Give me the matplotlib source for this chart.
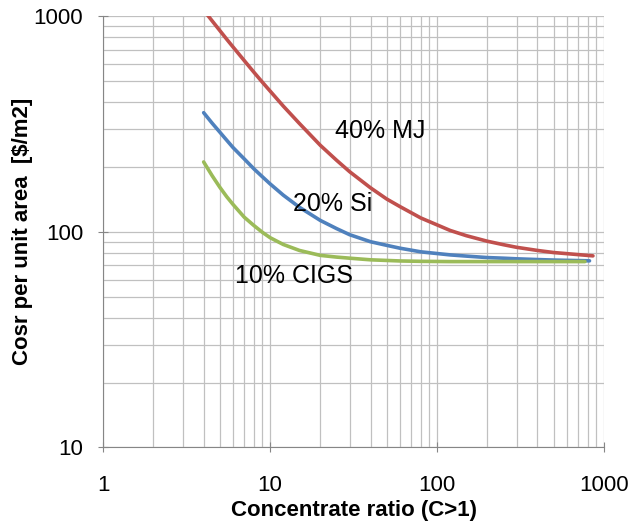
import numpy as np
import matplotlib.pyplot as plt

plt.rcParams["font.family"] = ["Liberation Sans", "DejaVu Sans"]

# concentration ratio (x) and cost per unit area (y)
conc_cigs = [4, 4.5, 5, 5.5, 6, 7, 8, 9, 10, 12, 15, 20, 25, 30, 40, 50, 60, 80,
             120, 200, 300, 500, 770]
cost_cigs = [211, 182, 161, 145.5, 134, 117, 107, 99.5, 94, 87.4, 82, 77.8, 76.4,
             75.5, 74.2, 73.7, 73.3, 73, 72.8, 72.8, 72.8, 72.8, 72.8]

conc_si = [4, 4.5, 5, 5.5, 6, 7, 8, 9, 10, 12, 15, 20, 25, 30, 40, 50, 60, 80,
           120, 150, 200, 250, 300, 400, 500, 820]
cost_si = [357, 319, 290, 266, 246, 218, 196, 180, 167, 148, 130, 113, 103.6, 97,
           90, 86.6, 84, 80.8, 78.2, 77.2, 76, 75.5, 75, 74.4, 74, 73.4]

conc_mj = [4, 4.5, 5, 5.5, 6, 7, 8, 9, 10, 12, 15, 20, 25, 30, 40, 50, 60, 80,
           120, 150, 200, 250, 300, 400, 500, 860]
cost_mj = [1067, 951, 858, 782, 720, 623, 550, 494, 450, 383, 318, 252, 215, 190,
           160, 142, 131, 116, 101.5, 96, 90.5, 87.2, 84.8, 82, 80.2, 77.4]

labels = ["10% CIGS", "20% Si", "40% MJ"]
label_pos = [(6.2, 62.5), (13.8, 135), (24.5, 294)]

fig = plt.figure(figsize=(6.33, 5.24), dpi=100)
ax = fig.add_axes([0.163, 0.146, 0.791, 0.823])

ax.set_xscale("log")
ax.set_yscale("log")
ax.set_xlim(1, 1000)
ax.set_ylim(10, 1000)

ax.grid(True, which="both", color="#c0c0c0", linewidth=0.9)
ax.set_axisbelow(True)

ax.plot(conc_mj, cost_mj, color="#c0504d", linewidth=2.6, solid_capstyle="round")
ax.plot(conc_si, cost_si, color="#4f81bd", linewidth=2.6, solid_capstyle="round")
ax.plot(conc_cigs, cost_cigs, color="#9bbb59", linewidth=2.6, solid_capstyle="round")

for text, (x, y) in zip(labels, label_pos):
    ax.text(x, y, text, fontsize=18, ha="left", va="center")

for side in ["top", "right"]:
    ax.spines[side].set_visible(False)
for side in ["left", "bottom"]:
    ax.spines[side].set_color("#868686")

ax.set_xticks([1, 10, 100, 1000])
ax.set_xticklabels(["1", "10", "100", "1000"])
ax.set_yticks([10, 100, 1000])
ax.set_yticklabels(["10", "100", "1000"])
ax.tick_params(which="major", direction="inout", length=7, color="#868686", labelsize=16)
ax.tick_params(axis="x", which="major", pad=16)
ax.tick_params(axis="y", which="major", pad=11)
ax.tick_params(which="minor", length=0)

ax.set_xlabel("Concentrate ratio (C>1)", fontsize=16, fontweight="bold", labelpad=3)
ax.set_ylabel("Cosr per unit area  [$/m2]", fontsize=16, fontweight="bold", labelpad=0)

fig.savefig("out.png", dpi=100)
